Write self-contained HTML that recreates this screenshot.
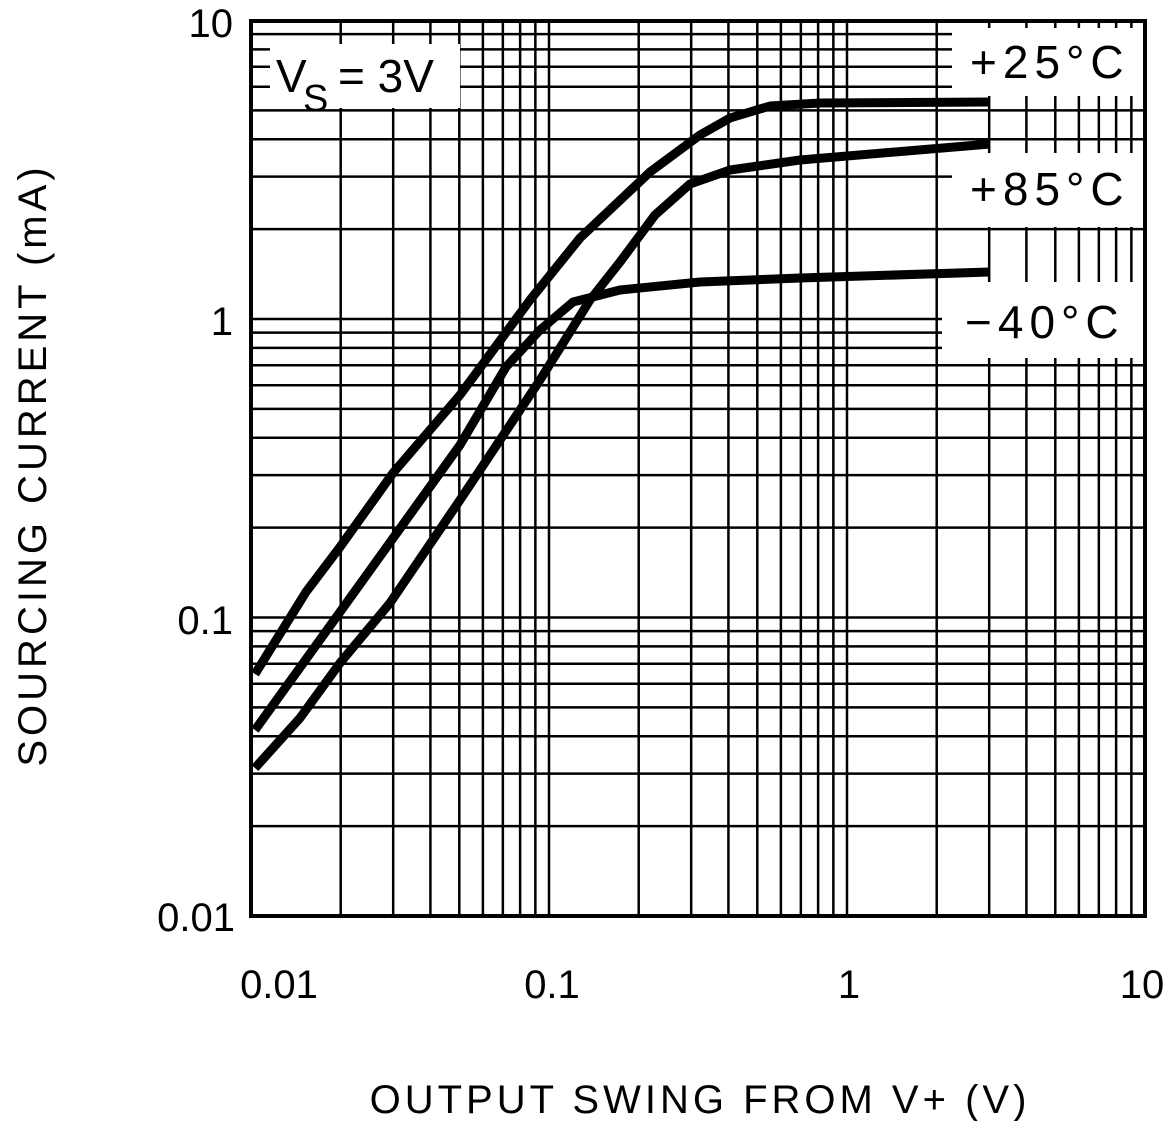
<!DOCTYPE html>
<html><head><style>
html,body{margin:0;padding:0;background:#fff;}
svg{display:block;}
text{font-family:"Liberation Sans Narrow","Liberation Sans",sans-serif;fill:#000;}
</style></head><body>
<svg id="s" width="1170" height="1121" viewBox="0 0 1170 1121" xmlns="http://www.w3.org/2000/svg">
<g id="grid" stroke="#000" stroke-width="2.5"></g>
<rect x="270" y="44" width="190" height="64" fill="#fff"/>
<rect x="952" y="28" width="192" height="68" fill="#fff"/>
<rect x="952" y="153" width="192" height="74" fill="#fff"/>
<rect x="942" y="282" width="202" height="76" fill="#fff"/>
<rect x="251" y="21" width="894" height="895" fill="none" stroke="#000" stroke-width="4"/>
<g fill="none" stroke="#000" stroke-width="9" stroke-linejoin="round">
<path d="M255,674 L306,592 L340,547 L393,473 L460,395 L530,300 L580,238 L650,172 L700,135 L730,118 L770,106 L820,103 L990,102"/>
<path d="M255,730 L340,612 L460,445 L506,367 L540,330 L573,302 L620,290 L700,282 L800,278 L990,272"/>
<path d="M255,768 L300,718 L340,663 L390,603 L460,500 L540,380 L590,300 L620,262 L655,215 L690,184 L730,170 L800,160 L990,144"/>
</g>
<text x="276" y="92" font-size="46">V</text>
<text x="303" y="111" font-size="38">S</text>
<text x="338" y="92" font-size="46">= 3V</text>
<text x="970" y="78" font-size="46" letter-spacing="6">+25°C</text>
<text x="970" y="205" font-size="46" letter-spacing="6">+85°C</text>
<text x="965" y="338" font-size="46" letter-spacing="6">−40°C</text>
<g font-size="40" text-anchor="end">
<text x="233" y="37">10</text>
<text x="233" y="335">1</text>
<text x="233" y="634">0.1</text>
<text x="235" y="931">0.01</text>
</g>
<g font-size="40" text-anchor="middle">
<text x="279" y="998">0.01</text>
<text x="552" y="998">0.1</text>
<text x="849" y="998">1</text>
<text x="1142" y="998">10</text>
</g>
<text x="700" y="1113" font-size="40" text-anchor="middle" letter-spacing="4">OUTPUT SWING FROM V+ (V)</text>
<text transform="translate(46,465) rotate(-90)" font-size="40" text-anchor="middle" letter-spacing="4">SOURCING CURRENT (mA)</text>
</svg>
<script>
var g=document.getElementById('grid'),ns='http://www.w3.org/2000/svg';
function L(x1,y1,x2,y2){var l=document.createElementNS(ns,'line');l.setAttribute('x1',x1);l.setAttribute('y1',y1);l.setAttribute('x2',x2);l.setAttribute('y2',y2);g.appendChild(l);}
var x0=251,dx=298,y0=916,dy=298.5;
for(var d=0;d<3;d++)for(var k=1;k<10;k++){var off=Math.log10(k);
var x=x0+(d+off)*dx;if(x>251&&x<1145)L(x,21,x,916);
var y=y0-(d+off)*dy;if(y<916&&y>21)L(251,y,1145,y);}
</script>
</body></html>
